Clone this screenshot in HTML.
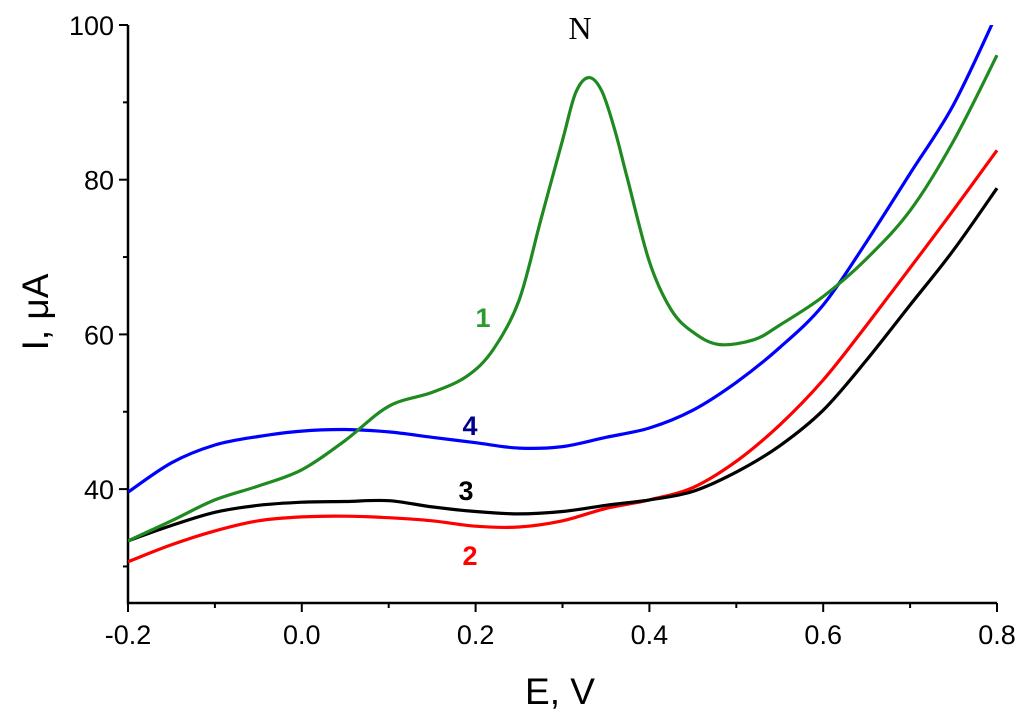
<!DOCTYPE html>
<html><head><meta charset="utf-8"><style>
body{margin:0;background:#fff}
svg{display:block;font-family:"Liberation Sans",sans-serif}
</style></head><body>
<svg id="chart" width="1024" height="720" xmlns="http://www.w3.org/2000/svg"></svg>
<script>
const xTicks=[-0.2,0.0,0.2,0.4,0.6,0.8];
const xTickLabels=["-0.2","0.0","0.2","0.4","0.6","0.8"];
const yTicks=[40,60,80,100];
const yTickLabels=["40","60","80","100"];
const eGreen=[-0.2,-0.15,-0.1,-0.05,0,0.05,0.1,0.15,0.19,0.22,0.25,0.275,0.3,0.315,0.33,0.345,0.36,0.375,0.4,0.425,0.45,0.48,0.52,0.55,0.6,0.65,0.7,0.75,0.8];
const iGreen=[33.3,35.9,38.6,40.4,42.5,46.3,50.7,52.5,54.6,58,64.4,74.8,85.1,91.2,93.2,91.5,86.5,80,69.4,63.2,60.3,58.7,59.3,61.2,64.9,69.8,76,85,96.1];
const eCommon=[-0.2,-0.15,-0.1,-0.05,0,0.05,0.1,0.15,0.2,0.25,0.3,0.35,0.4,0.45,0.5,0.55,0.6,0.65,0.7,0.75,0.8];
const iBlue=[39.6,43.4,45.7,46.8,47.5,47.7,47.4,46.7,46,45.3,45.5,46.7,47.9,50.2,53.8,58.3,63.8,72,80.8,89.7,101.5];
const iBlack=[33.3,35.3,37,37.9,38.3,38.4,38.5,37.7,37.1,36.8,37.1,37.9,38.6,39.7,42.2,45.6,50.2,56.7,63.8,70.9,78.9];
const iRed=[30.6,32.8,34.6,35.9,36.4,36.5,36.3,35.9,35.2,35.1,35.9,37.5,38.6,40.2,43.6,48.3,54.1,61.2,68.6,76.1,83.8];

const NS="http://www.w3.org/2000/svg",svg=document.getElementById('chart');
const X0=128,X1=997,Y0=603,Y100=25;
const xs=v=>X0+(v+0.2)/1.0*(X1-X0);
const ys=v=>Y100+(100-v)*7.735;
function el(t,a,p){const e=document.createElementNS(NS,t);for(const k in a)e.setAttribute(k,a[k]);(p||svg).appendChild(e);return e;}
const clip=el('clipPath',{id:'c'});el('rect',{x:X0,y:Y100,width:X1-X0+2,height:Y0-Y100},clip);

const axes=el('path',{d:`M${X0},${Y100} V${Y0} H${X1}`,stroke:'#000','stroke-width':2.5,fill:'none'});


for(let v=30;v<=100;v+=10){const y=ys(v);const major=v%20==0;
 const t=el('line',{x1:X0,x2:X0-(major?9:5),y1:y,y2:y,stroke:'#000','stroke-width':2});
 
 }
yTicks.forEach((v,i)=>{const t=el('text',{x:X0-14,y:ys(v)+10,'text-anchor':'end','font-size':27});t.textContent=yTickLabels[i];
 
 });
for(let k=0;k<=10;k++){const v=-0.2+k*0.1;const x=xs(v);const major=k%2==0;
 const t=el('line',{x1:x,x2:x,y1:Y0,y2:Y0+(major?9:5),stroke:'#000','stroke-width':2});
 
 }
xTicks.forEach((v,i)=>{const t=el('text',{x:xs(v),y:Y0+41,'text-anchor':'middle','font-size':27});t.textContent=xTickLabels[i];
 
 });

function line(xsArr,ysArr,color,name){
 const P=xsArr.map((v,i)=>[xs(v),ys(ysArr[i])]);
 let d='M'+P[0][0].toFixed(1)+','+P[0][1].toFixed(1);
 for(let i=0;i<P.length-1;i++){
  const p0=P[i-1]||P[i],p1=P[i],p2=P[i+1],p3=P[i+2]||P[i+1];
  const c1=[p1[0]+(p2[0]-p0[0])/6,p1[1]+(p2[1]-p0[1])/6];
  const c2=[p2[0]-(p3[0]-p1[0])/6,p2[1]-(p3[1]-p1[1])/6];
  d+=` C${c1[0].toFixed(1)},${c1[1].toFixed(1)} ${c2[0].toFixed(1)},${c2[1].toFixed(1)} ${p2[0].toFixed(1)},${p2[1].toFixed(1)}`;
 }
 const p=el('path',{d,stroke:color,'stroke-width':3.2,fill:'none','stroke-linejoin':'round','clip-path':'url(#c)'});
 
 }
line(eCommon,iRed,'#ff0000','curve-2-red');
line(eCommon,iBlack,'#000000','curve-3-black');
line(eCommon,iBlue,'#0000ff','curve-4-blue');
line(eGreen,iGreen,'#1f8a1f','curve-1-green');

function label(txt,x,y,color,size,name,extra){const t=el('text',Object.assign({x,y,fill:color,'font-size':size,'text-anchor':'middle'},extra||{}));t.textContent=txt;
 
 return t;}
label('1',483,327,'#2e9a2e',27,'label-1',{'font-weight':'bold'});
label('4',470,435,'#00008b',27,'label-4',{'font-weight':'bold'});
label('3',466,500,'#000',27,'label-3',{'font-weight':'bold'});
label('2',470,565,'#ff0000',27,'label-2',{'font-weight':'bold'});
label('N',580,39,'#000',32,'peak-label-n',{'font-family':'Liberation Serif, serif'});
label('E, V',560,704,'#000',37,'x-axis-title');
const yt=label('I, μA',0,0,'#000',37,'y-axis-title');yt.setAttribute('transform','translate(48,312) rotate(-90)');
</script>
</body></html>
